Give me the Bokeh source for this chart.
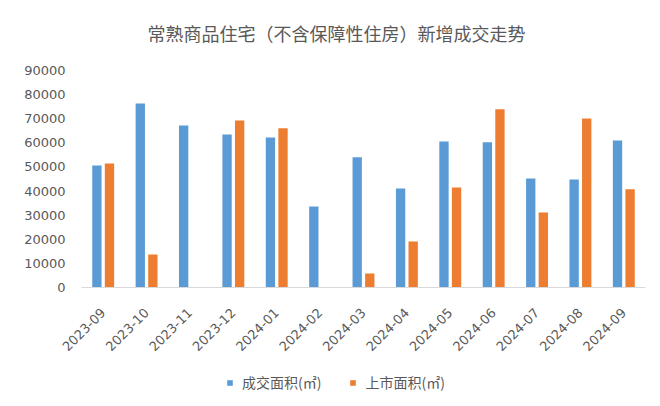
from bokeh.plotting import figure
from bokeh.models import (FactorRange, ColumnDataSource, Legend, LegendItem, Label,
                          NumeralTickFormatter, FixedTicker, Range1d)
from bokeh.layouts import column
from bokeh.transform import dodge
from bokeh.embed import file_html
from bokeh.resources import INLINE

months = ["2023-09", "2023-10", "2023-11", "2023-12", "2024-01", "2024-02", "2024-03",
          "2024-04", "2024-05", "2024-06", "2024-07", "2024-08", "2024-09"]
deal_area = [50600, 76300, 67200, 63500, 62200, 33600, 54000, 41100, 60600, 60200, 45200, 44800, 61000]
listed_area = [51400, 13700, 0, 69300, 66000, 0, 5800, 19100, 41500, 73900, 31100, 70100, 40700]
y_ticks = [0, 10000, 20000, 30000, 40000, 50000, 60000, 70000, 80000, 90000]
title_text = "常熟商品住宅（不含保障性住房）新增成交走势"
series_names = ["成交面积(㎡)", "上市面积(㎡)"]

BLUE = "#5B9BD5"
ORANGE = "#ED7D31"
TXT = "#595959"


def strip(height, y0, y1):
    f = figure(width=660, height=height, x_range=Range1d(81, 645), y_range=Range1d(y0, y1),
               output_backend="svg", toolbar_location=None, x_axis_type=None,
               y_axis_type=None, min_border_left=81, min_border_right=15,
               min_border_top=0, min_border_bottom=0)
    f.outline_line_color = None
    f.xgrid.grid_line_color = None
    f.ygrid.grid_line_color = None
    return f


# title strip (page y 0..50)
tp = strip(50, 50, 0)
tp.add_layout(Label(x=336, y=32, text=title_text, text_font="Noto Sans CJK SC",
                    text_font_size="18px", text_color=TXT, text_align="center",
                    text_baseline="middle"))

# main chart
src = ColumnDataSource(dict(m=months, a=deal_area, b=listed_area))
p = figure(width=660, height=310, x_range=FactorRange(*months, range_padding=0),
           y_range=(0, 90000), output_backend="svg", toolbar_location=None,
           min_border_left=81, min_border_right=15, min_border_top=20, min_border_bottom=73)
p.xgrid.grid_line_color = None
p.ygrid.grid_line_color = None
p.outline_line_color = None
p.background_fill_color = "white"
p.border_fill_color = "white"

p.vbar(x=dodge("m", -0.145, range=p.x_range), top="a", width=0.215, source=src,
       fill_color=BLUE, line_color=None)
p.vbar(x=dodge("m", 0.145, range=p.x_range), top="b", width=0.215, source=src,
       fill_color=ORANGE, line_color=None)

tick_font = "DejaVu Sans"
p.yaxis.ticker = FixedTicker(ticks=y_ticks)
p.yaxis.formatter = NumeralTickFormatter(format="0")
p.yaxis.axis_line_color = None
p.yaxis.major_tick_line_color = None
p.yaxis.minor_tick_line_color = None
p.yaxis.major_label_text_font = tick_font
p.yaxis.major_label_text_font_size = "13px"
p.yaxis.major_label_text_color = TXT
p.yaxis.major_label_standoff = 10

p.xaxis.axis_line_color = "#D9D9D9"
p.xaxis.major_tick_line_color = None
p.xaxis.minor_tick_line_color = None
p.xaxis.major_label_orientation = 0.785
p.xaxis.major_label_text_font = tick_font
p.xaxis.major_label_text_font_size = "13px"
p.xaxis.major_label_text_color = TXT
p.xaxis.major_label_standoff = 17

# legend strip under the chart
lg = strip(46, 0, 1)
hidden = ColumnDataSource(dict(x=[-5], t=[-5]))
g1 = lg.vbar(x="x", top="t", width=0.1, source=hidden, fill_color=BLUE, line_color=None)
g2 = lg.vbar(x="x", top="t", width=0.1, source=hidden, fill_color=ORANGE, line_color=None)
legend = Legend(items=[LegendItem(label=series_names[0], renderers=[g1]),
                       LegendItem(label=series_names[1], renderers=[g2])],
                orientation="horizontal", location=(145, 14), padding=0, margin=0,
                spacing=28, glyph_width=7, glyph_height=7, label_standoff=9,
                label_height=14,
                label_text_font="Noto Sans CJK SC", label_text_font_size="14px",
                label_text_color=TXT, border_line_color=None,
                background_fill_alpha=0)
lg.add_layout(legend, "center")

layout = column(tp, p, lg, spacing=0)
open("out.html", "w").write(file_html(layout, INLINE))
